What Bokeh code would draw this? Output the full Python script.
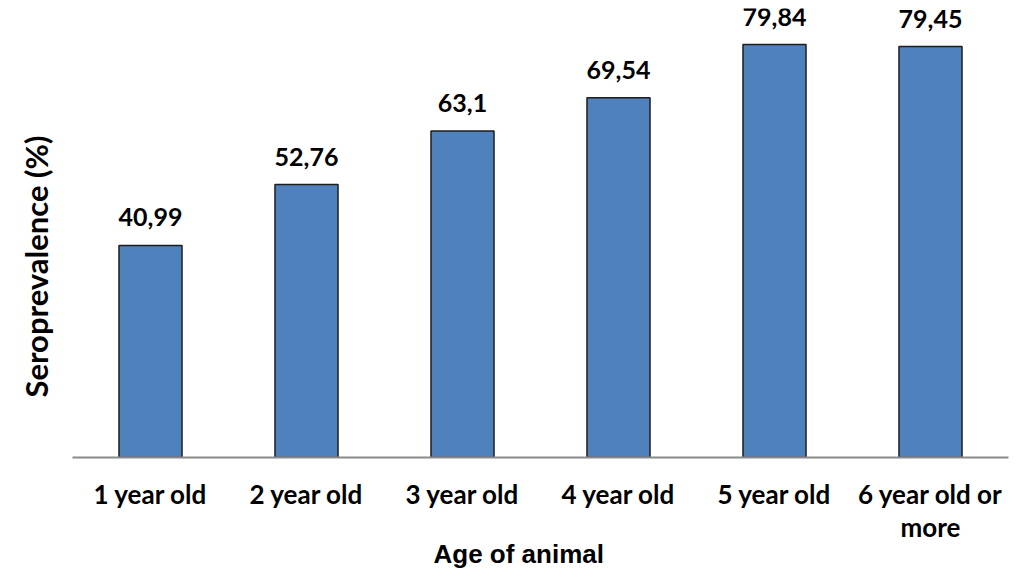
from bokeh.plotting import figure
from bokeh.models import ColumnDataSource, Range1d, FactorRange, Title
from bokeh.embed import file_html
from bokeh.resources import INLINE
from bokeh.core.properties import value

categories = ["1 year old", "2 year old", "3 year old", "4 year old", "5 year old", "6 year old or\nmore"]
seroprevalence = [40.99, 52.76, 63.1, 69.54, 79.84, 79.45]
value_labels = ["40,99", "52,76", "63,1", "69,54", "79,84", "79,45"]

src = ColumnDataSource(dict(cat=categories, val=seroprevalence, lab=value_labels))

p = figure(x_range=FactorRange(*categories, range_padding=0), y_range=Range1d(0, 86.8),
           frame_width=936, frame_height=449, output_backend="svg", toolbar_location=None,
           min_border_left=72, min_border_right=8, min_border_top=8, min_border_bottom=116)
p.outline_line_color = None
p.grid.grid_line_color = None
p.background_fill_color = "white"

p.vbar(x="cat", top="val", width=0.404, source=src, fill_color="#4F81BD",
       line_color="#1d1d1d", line_width=1.5)
p.text(x="cat", y="val", text="lab", source=src, text_align="center", text_baseline="bottom",
       y_offset=-19, text_font=value("Lato"), text_font_style="bold", text_font_size="25px",
       text_color="black")

xa = p.xaxis[0]
xa.axis_line_color = "#8a8a8a"
xa.axis_line_width = 2
xa.major_tick_line_color = None
xa.minor_tick_line_color = None
xa.major_tick_out = 0
xa.major_label_text_font = "Lato"
xa.major_label_text_font_style = "bold"
xa.major_label_text_font_size = "26px"
xa.major_label_text_line_height = 1.05
xa.major_label_text_color = "black"
xa.major_label_standoff = 20

p.yaxis.visible = False

xt = Title(text="Age of animal", align="left", offset=361, standoff=-20,
           text_font="Liberation Sans", text_font_style="bold", text_font_size="26px",
           text_color="black")
p.add_layout(xt, "below")

yt = Title(text="Seroprevalence (%)", align="left", offset=60, standoff=31,
           vertical_align="top",
           text_font="Lato", text_font_style="bold", text_font_size="31px",
           text_color="black")
p.add_layout(yt, "left")

open("out.html", "w").write(file_html(p, INLINE))
